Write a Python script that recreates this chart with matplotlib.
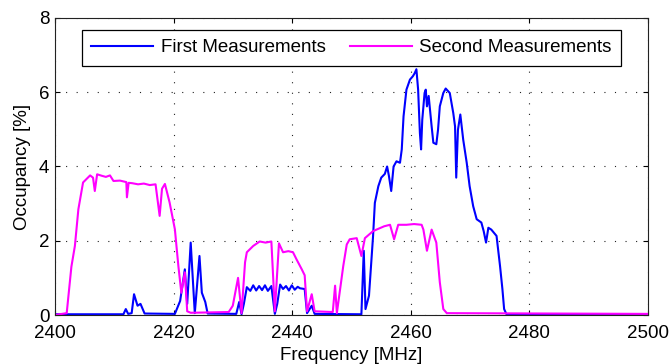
import matplotlib
matplotlib.use("Agg")
import matplotlib.pyplot as plt

plt.rcParams['font.family'] = ['Liberation Sans', 'DejaVu Sans']

# First measurements (blue)
f1 = [2400, 2411.55, 2411.95, 2412.35, 2412.94, 2413.34, 2413.93, 2414.43, 2415.12, 2420.23,
      2421.12, 2421.91, 2422.31, 2422.90, 2423.59, 2424.38, 2424.78, 2425.36, 2425.76, 2430.59,
      2431.08, 2431.48, 2431.87, 2432.37, 2432.96, 2433.45, 2433.95, 2434.44, 2434.94, 2435.43,
      2435.92, 2436.51, 2437.10, 2437.50, 2437.99, 2438.48, 2438.98, 2439.47, 2439.96, 2440.45,
      2440.95, 2441.34, 2442.13, 2442.53, 2443.32, 2443.81, 2451.70, 2452.10, 2452.39, 2452.98,
      2453.67, 2453.97, 2454.56, 2455.05, 2455.65, 2456.04, 2456.34, 2456.73, 2457.13, 2457.62,
      2458.21, 2458.51, 2458.81, 2459.30, 2459.89, 2460.38, 2460.68, 2460.98, 2461.27, 2461.57,
      2461.77, 2461.97, 2462.36, 2462.56, 2462.76, 2463.05, 2463.55, 2463.84, 2464.34, 2464.63,
      2464.93, 2465.52, 2465.92, 2466.61, 2467.20, 2467.50, 2467.70, 2467.99, 2468.39, 2468.88,
      2469.47, 2469.96, 2470.56, 2471.15, 2471.94, 2472.33, 2472.73, 2473.12, 2473.62, 2474.50,
      2475.09, 2475.49, 2475.78, 2476.18, 2500]
v1 = [0.02, 0.02, 0.16, 0.03, 0.05, 0.56, 0.25, 0.3, 0.04, 0.03,
      0.38, 1.23, 0.3, 1.95, 0.05, 1.59, 0.6, 0.35, 0.04, 0.03,
      0.35, 0.02, 0.3, 0.75, 0.65, 0.8, 0.66, 0.78, 0.67, 0.8,
      0.65, 0.78, 0.03, 0.3, 0.82, 0.7, 0.78, 0.66, 0.8, 0.68,
      0.76, 0.72, 0.7, 0.05, 0.25, 0.03, 0.02, 1.73, 0.16, 0.52,
      2.13, 3.02, 3.47, 3.7, 3.8, 4.0, 3.75, 3.34, 4.0, 4.14,
      4.1, 4.46, 5.35, 6.07, 6.34, 6.43, 6.51, 6.62, 6.07, 4.9,
      4.46, 5.26, 5.98, 6.07, 5.62, 5.9, 5.08, 4.64, 4.6, 4.99,
      5.62, 5.98, 6.1, 5.98, 5.44, 5.08, 3.7, 4.99, 5.4, 4.72,
      4.1, 3.47, 2.93, 2.58, 2.49, 2.26, 1.95, 2.35, 2.3, 2.13,
      1.32, 0.7, 0.16, 0.02, 0.02]

# Second measurements (magenta)
f2 = [2400, 2401.98, 2402.77, 2403.36, 2403.95, 2404.74, 2405.93, 2406.42, 2406.72, 2407.11,
      2407.90, 2408.59, 2409.28, 2409.87, 2410.96, 2412.04, 2412.14, 2412.43, 2413.03, 2414.02,
      2415.00, 2415.99, 2416.97, 2417.66, 2418.06, 2418.55, 2419.34, 2420.23, 2420.82, 2421.32,
      2421.91, 2422.31, 2422.90, 2429.31, 2430.00, 2430.89, 2431.48, 2432.07, 2432.37, 2433.45,
      2434.54, 2435.53, 2436.51, 2437.10, 2437.79, 2438.48, 2439.37, 2440.16, 2440.75, 2441.64,
      2442.13, 2442.53, 2443.32, 2443.81, 2446.87, 2447.26, 2447.56, 2448.64, 2449.23, 2449.73,
      2450.91, 2451.70, 2452.29, 2453.67, 2455.55, 2456.53, 2457.22, 2457.91, 2459.30, 2460.58,
      2461.86, 2462.16, 2462.76, 2463.55, 2464.34, 2464.93, 2465.52, 2466.11, 2500]
v2 = [0.0, 0.05, 1.3, 1.86, 2.85, 3.57, 3.76, 3.7, 3.34, 3.79,
      3.75, 3.72, 3.76, 3.61, 3.62, 3.58, 3.17, 3.56, 3.55, 3.52,
      3.54, 3.5, 3.52, 2.67, 3.4, 3.53, 3.03, 2.31, 1.32, 0.6,
      1.15, 0.1, 0.06, 0.08, 0.25, 1.0, 0.05, 1.42, 1.69, 1.86,
      1.98, 1.95, 1.98, 0.1, 1.93, 1.69, 1.72, 1.69, 1.5, 1.23,
      1.07, 0.1, 0.56, 0.1, 0.08, 0.79, 0.05, 1.32, 1.9, 2.04,
      2.07, 1.59, 2.07, 2.26, 2.39, 2.43, 2.04, 2.43, 2.43, 2.45,
      2.43, 2.3, 1.73, 2.3, 1.95, 0.88, 0.16, 0.05, 0.03]

xticks = [2400, 2420, 2440, 2460, 2480, 2500]
yticks = [0, 2, 4, 6, 8]

fig = plt.figure(figsize=(6.72, 3.64), dpi=100)
ax = fig.add_axes([0.0818, 0.1346, 0.882, 0.816])

ax.plot(f1, v1, color=(0, 0, 1), lw=1.5, label='First Measurements')
ax.plot(f2, v2, color=(1, 0, 1), lw=1.5, label='Second Measurements')

ax.set_xlim(2400, 2500)
ax.set_ylim(0, 8)
ax.set_xticks(xticks)
ax.set_yticks(yticks)
ax.tick_params(direction='in', top=True, right=True, labelsize=13.5, length=3.6)
ax.tick_params(axis='x', pad=7)
ax.tick_params(axis='y', pad=4)
ax.grid(True, color='#222222', linestyle=(0, (1, 8.5)), linewidth=0.8)
for s in ax.spines.values():
    s.set_color('#222222')
ax.set_xlabel('Frequency [MHz]', fontsize=13.5, labelpad=4)
ax.set_ylabel('Occupancy [%]', fontsize=13.5, labelpad=6)

leg = ax.legend(loc='upper center', ncol=2, fontsize=13.5, fancybox=False,
                framealpha=1, edgecolor='black', handlelength=3.3,
                borderaxespad=0.64, borderpad=0.5, columnspacing=1.3,
                handletextpad=0.4)
leg.get_frame().set_linewidth(0.9)

fig.savefig('out.png', dpi=100)
